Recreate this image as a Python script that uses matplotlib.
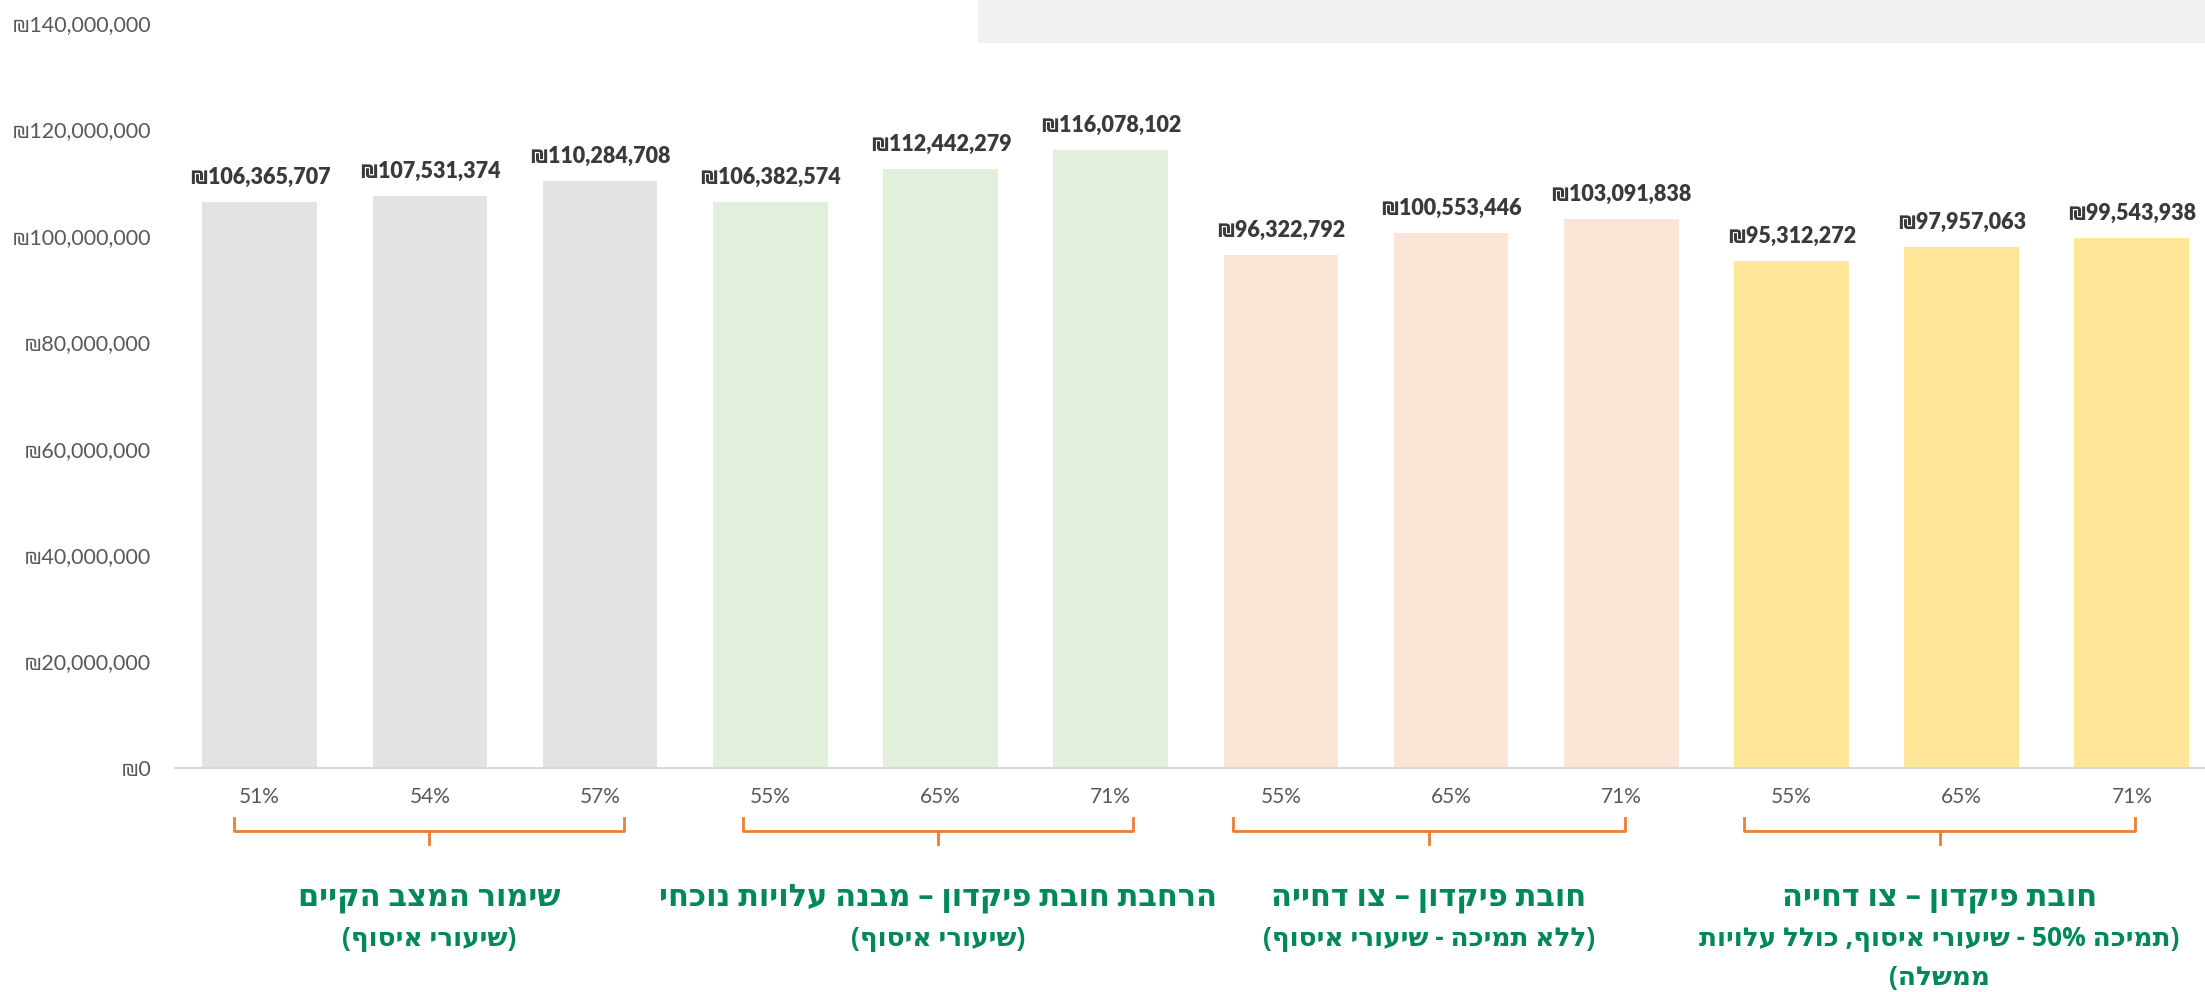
import re
import matplotlib
matplotlib.use("Agg")
import matplotlib.pyplot as plt
from matplotlib.patches import Rectangle
from matplotlib.transforms import blended_transform_factory

# data
rates = ['51%', '54%', '57%', '55%', '65%', '71%', '55%', '65%', '71%', '55%', '65%', '71%']
costs = [106365707, 107531374, 110284708, 106382574, 112442279, 116078102,
         96322792, 100553446, 103091838, 95312272, 97957063, 99543938]
group_colors = ['#E3E3E3', '#E2EFDA', '#FBE5D6', '#FFE699']
group_titles = ['שימור המצב הקיים',
                'הרחבת חובת פיקדון – מבנה עלויות נוכחי',
                'חובת פיקדון – צו דחייה',
                'חובת פיקדון – צו דחייה']
group_subs = [['(שיעורי איסוף)'],
              ['(שיעורי איסוף)'],
              ['(ללא תמיכה - שיעורי איסוף)'],
              ['(תמיכה 50% - שיעורי איסוף, כולל עלויות', 'ממשלה)']]
brace_spans = [(-0.15, 2.14), (2.84, 5.13), (5.72, 8.02), (8.72, 11.02)]

NUM_FONT = ['Lato', 'DejaVu Sans']
HEB_FONT = ['Open Sans', 'DejaVu Sans']
GREEN = '#00875A'
ORANGE = '#ED7D31'


def rtl(s):
    # crude visual reordering for right-to-left text (matplotlib has no bidi)
    units = re.findall(r'\d+(?:[.,]\d+)*%?|.', s)
    units = units[::-1]
    mirror = {'(': ')', ')': '('}
    return ''.join(mirror.get(u, u) for u in units)


fig = plt.figure(figsize=(22.05, 9.92), dpi=100)
ax = fig.add_axes([0.0792, 0.2258, 0.9208, 0.7513])

x = list(range(len(costs)))
colors = [group_colors[i // 3] for i in x]
ax.bar(x, costs, width=0.674, color=colors)

ax.set_xlim(-0.5, 11.43)
ax.set_ylim(0, 140000000)
ax.set_yticks(range(0, 140000001, 20000000))
ax.set_yticklabels(['₪{:,}'.format(v) for v in range(0, 140000001, 20000000)],
                   family=NUM_FONT, fontsize=15.5, color='#595959')
ax.set_xticks(x)
ax.set_xticklabels(rates, family=NUM_FONT, fontsize=15, color='#595959')
ax.tick_params(axis='y', length=0, pad=17)
ax.tick_params(axis='x', length=0, pad=14)

for s in ['top', 'right', 'left']:
    ax.spines[s].set_visible(False)
ax.spines['bottom'].set_color('#D9D9D9')
ax.spines['bottom'].set_linewidth(1.5)

for xi, v in zip(x, costs):
    ax.annotate('₪{:,}'.format(v), (xi, v), xytext=(0, 13), textcoords='offset points',
                ha='center', va='baseline', fontsize=15.5, fontweight='heavy',
                family=NUM_FONT, color='#3A3A3A')

# group braces and labels
tr = blended_transform_factory(ax.transData, fig.transFigure)
y_top, y_mid, y_tip = 0.1754, 0.1623, 0.1492
for (l, r), title, subs in zip(brace_spans, group_titles, group_subs):
    c = (l + r) / 2
    ax.plot([l, l, r, r], [y_top, y_mid, y_mid, y_top], transform=tr,
            color=ORANGE, lw=2, clip_on=False, solid_joinstyle='round')
    ax.plot([c, c], [y_mid, y_tip], transform=tr, color=ORANGE, lw=2, clip_on=False)
    fig.text(c, 1 - 898 / 992, rtl(title), transform=tr, ha='center', va='center',
             fontsize=22, fontweight='bold', color=GREEN, family=HEB_FONT)
    for k, sub in enumerate(subs):
        fig.text(c, 1 - (939 + 38 * k) / 992, rtl(sub), transform=tr, ha='center',
                 va='center', fontsize=19, fontweight='bold', color=GREEN, family=HEB_FONT)

# grey title box, cut off at the top
fig.patches.append(Rectangle((978 / 2205, 1 - 42 / 992), 1, 42 / 992,
                             transform=fig.transFigure, color='#F1F1F1', zorder=0))

fig.savefig('out.png', dpi=100)
